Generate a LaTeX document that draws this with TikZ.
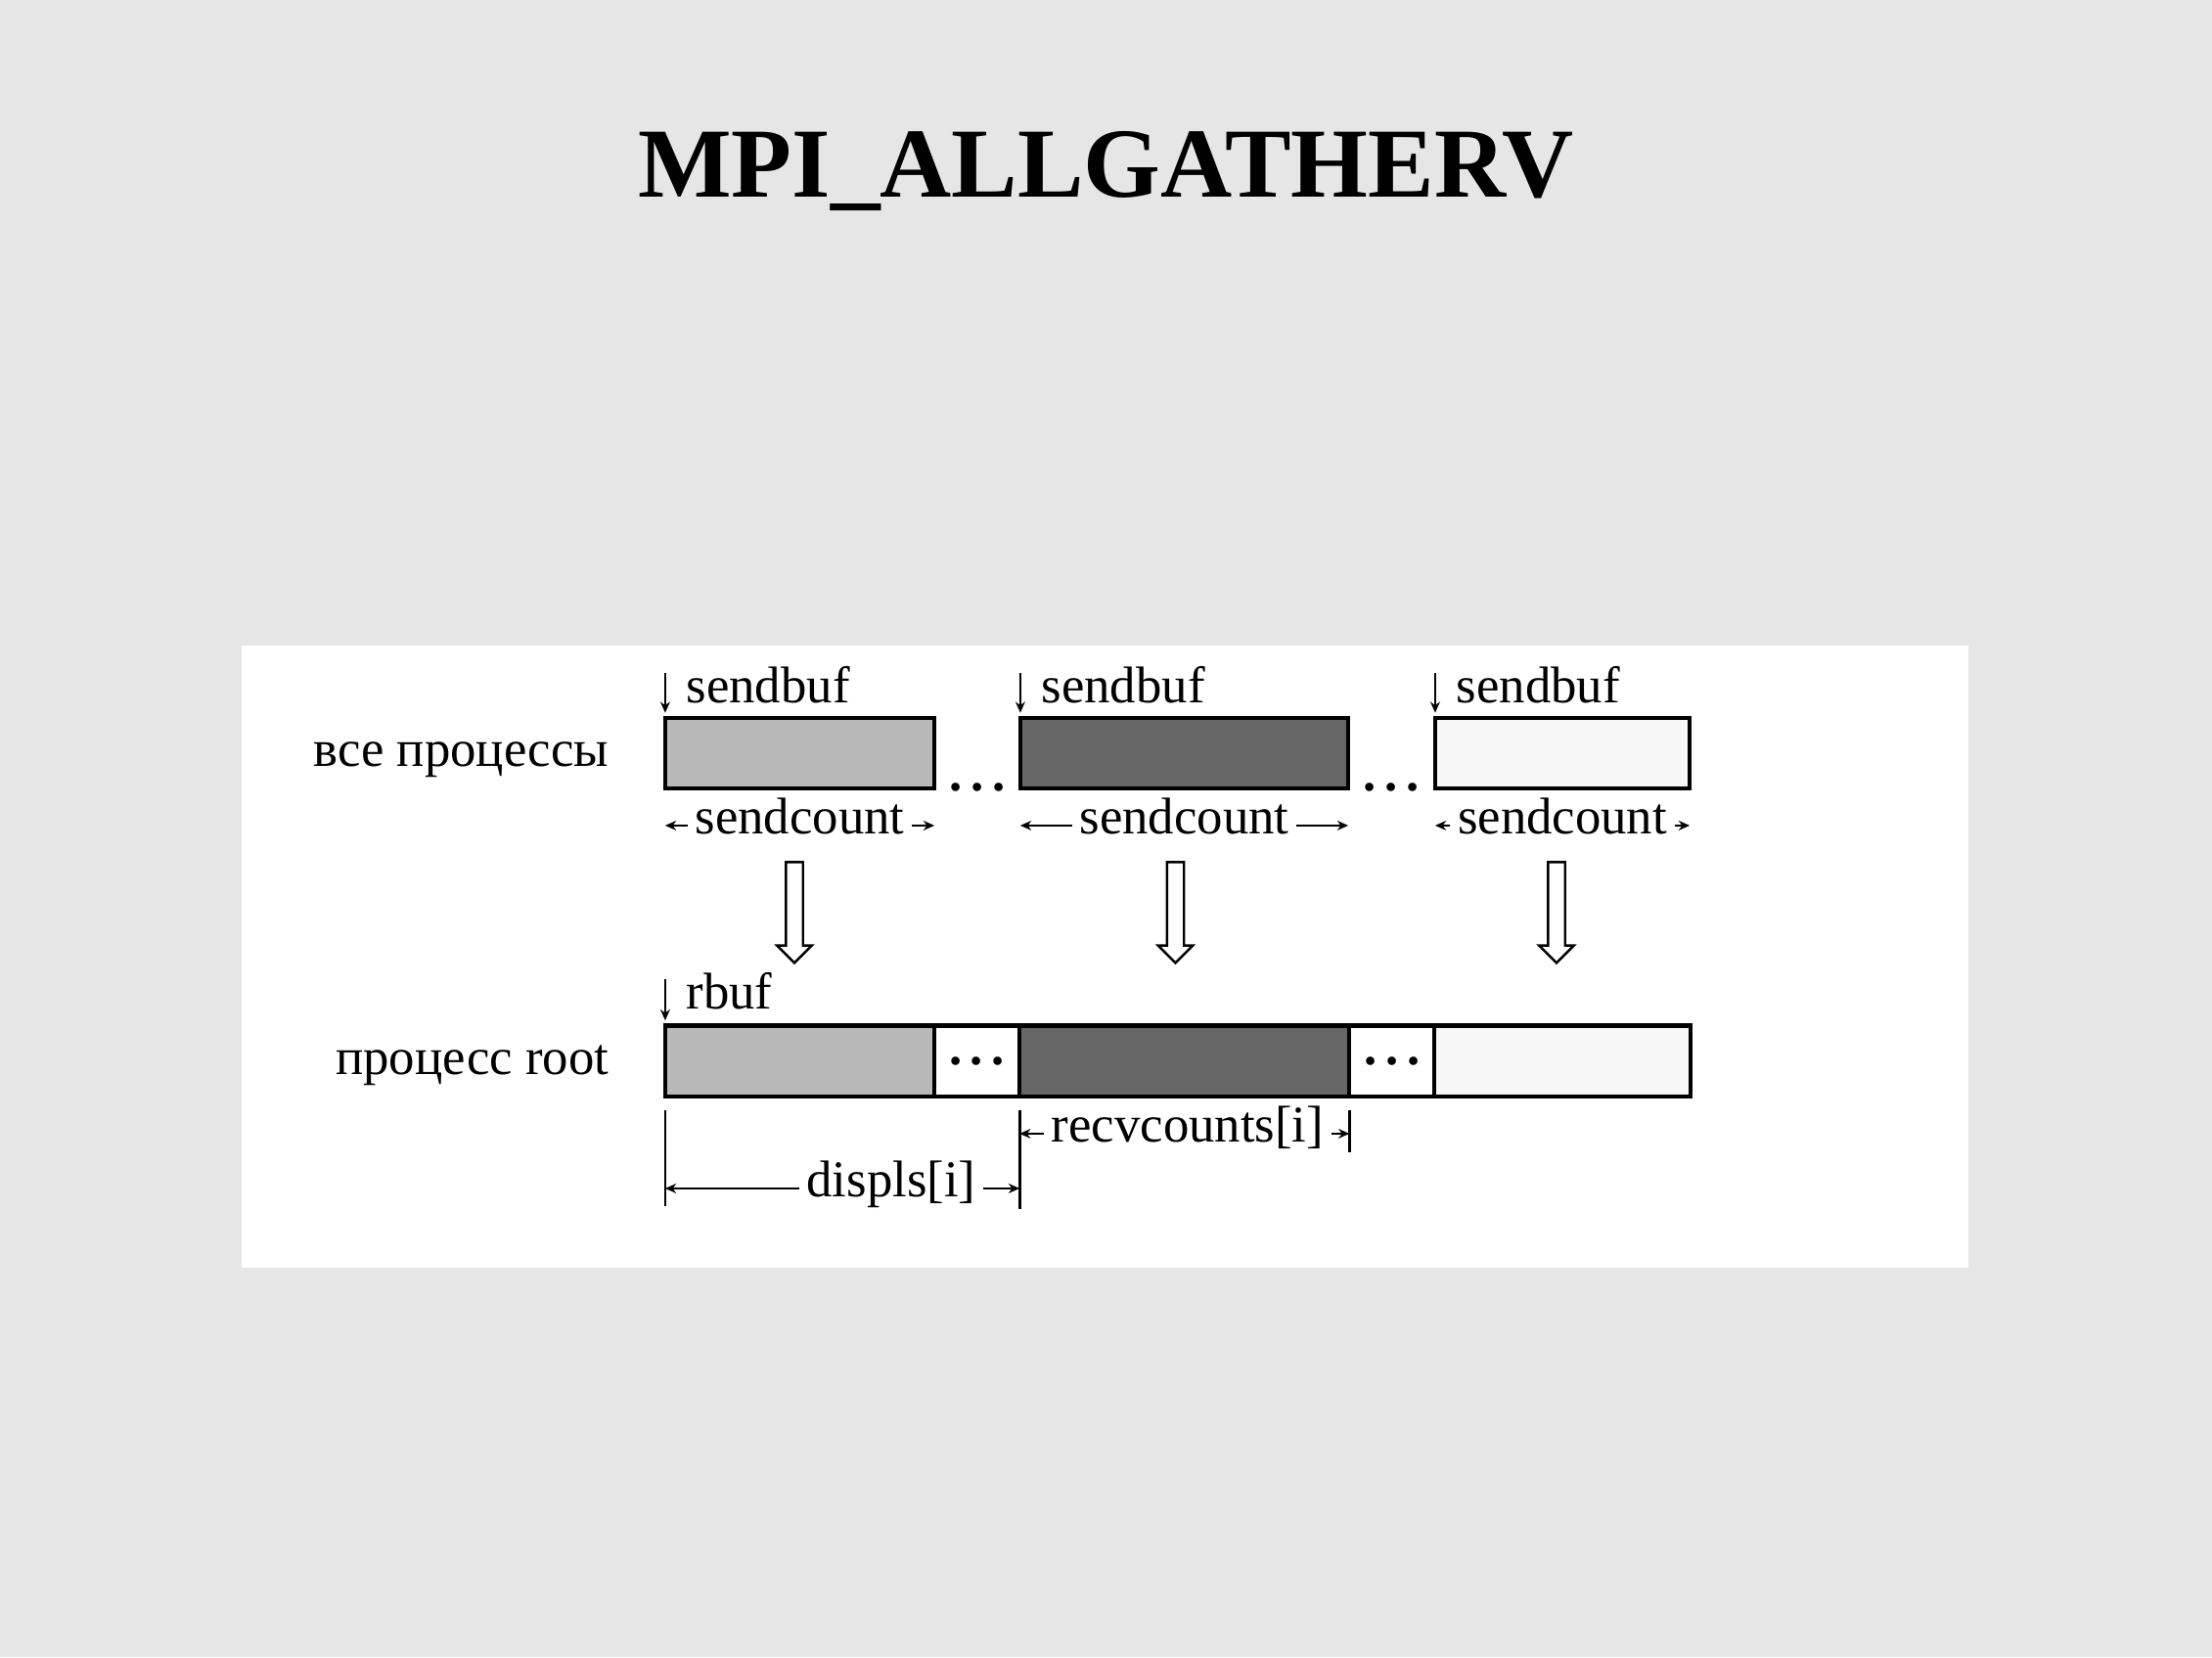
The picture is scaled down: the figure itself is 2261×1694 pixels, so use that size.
\documentclass[tikz,border=0pt]{standalone}
\usepackage{fontspec}
\setmainfont{Liberation Serif}
\usetikzlibrary{arrows.meta, shapes.arrows, positioning}
\definecolor{slidebg}{HTML}{E6E6E6}
\definecolor{bufA}{HTML}{B8B8B8}
\definecolor{bufB}{HTML}{666666}
\definecolor{bufC}{HTML}{F7F7F7}
\tikzset{>={Stealth[length=3.2pt,width=2.8pt]}}

\begin{document}
\begin{tikzpicture}[x=0.01cm, y=-0.01cm, font=\fontsize{15}{18}\selectfont,
    cell/.style={draw, line width=1.15pt, minimum height=0.72cm, inner sep=0pt, outer sep=0pt},
    lbl/.style={inner sep=2pt},
    dim/.style={->, line width=0.6pt},
    tick/.style={line width=0.8pt},
    flow/.style={single arrow, draw, line width=0.7pt, fill=white, rotate=-90,
      minimum height=1.03cm, inner sep=0.075cm, single arrow head extend=0.09cm}]

    \fill[slidebg] (0,0) rectangle (2261,1694);
    \fill[white] (247,660) rectangle (2012,1296);

    \node[font=\fontsize{28.8}{34}\selectfont\bfseries, anchor=base] (title) at (1130.5,202) {MPI\_ALLGATHERV};

    % send buffers of all processes
    \node[cell, fill=bufA, minimum width=2.75cm] (s1) at (817.5,770) {};
    \node[cell, fill=bufB, minimum width=3.35cm] (s2) at (1210.5,770) {};
    \node[cell, fill=bufC, minimum width=2.60cm] (s3) at (1597,770) {};
    \node[anchor=base, font=\fontsize{15}{18}\selectfont\bfseries] (g1) at (999,808) {.\,.\,.};
    \node[anchor=base, font=\fontsize{15}{18}\selectfont\bfseries] (g2) at (1422.5,808) {.\,.\,.};
    \node[lbl, anchor=base east] (all) at ([shift={(-50,13)}]s1.west) {все процессы};

    \foreach \i in {1,2,3} {
        \node[lbl, anchor=base west] (b\i) at ([shift={(14,-15)}]s\i.north west) {sendbuf};
        \draw[dim, shorten <=4pt, shorten >=1.5pt] (b\i.north west -| s\i.west) -- (s\i.north west);
        \node[lbl, anchor=base] (c\i) at ([shift={(0,46)}]s\i.south) {sendcount};
        \draw[dim] (c\i.mid west) -- (c\i.mid west -| s\i.west);
        \draw[dim] (c\i.mid east) -- (c\i.mid east -| s\i.east);
    }

    % gathering
    \node[flow] (f1) at (812,928.5) {};
    \node[flow] (f2) at (1201.5,928.5) {};
    \node[flow] (f3) at (1591,928.5) {};

    % receive buffer of root
    \node[cell, fill=bufA, minimum width=2.75cm] (r1) at (817.5,1084.5) {};
    \node[cell, fill=white, minimum width=0.87cm, font=\fontsize{15}{18}\selectfont\bfseries, right=0pt of r1] (d1) {.\,.\,.};
    \node[cell, fill=bufB, minimum width=3.37cm, right=0pt of d1] (r2) {};
    \node[cell, fill=white, minimum width=0.87cm, font=\fontsize{15}{18}\selectfont\bfseries, right=0pt of r2] (d2) {.\,.\,.};
    \node[cell, fill=bufC, minimum width=2.61cm, right=0pt of d2] (r3) {};
    \node[lbl, anchor=base east] (root) at ([shift={(-50,13.5)}]r1.west) {процесс root};
    \node[lbl, anchor=base west] (rb) at ([shift={(14,-17)}]r1.north west) {rbuf};
    \draw[dim, shorten <=4pt, shorten >=1.5pt] (rb.north west -| r1.west) -- (r1.north west);

    % displacement and count
    \coordinate (k0) at (r1.south west |- 0,1233);
    \coordinate (k1) at (r2.south west |- 0,1236);
    \coordinate (k2) at (r2.south east |- 0,1178);
    \draw[tick] ([yshift=-0.14cm]r1.south west) -- (k0);
    \draw[tick] ([yshift=-0.14cm]r2.south west) -- (k1);
    \draw[tick] ([yshift=-0.14cm]r2.south east) -- (k2);
    \node[lbl, anchor=base] (dsp) at (911,1223) {displs[i]};
    \draw[dim] (dsp.mid west) -- (dsp.mid west -| k0);
    \draw[dim] (dsp.mid east) -- (dsp.mid east -| k1);
    \node[lbl, anchor=base] (rc) at (1214,1167) {recvcounts[i]};
    \draw[dim] (rc.mid west) -- (rc.mid west -| k1);
    \draw[dim] (rc.mid east) -- (rc.mid east -| k2);
\end{tikzpicture}
\end{document}
